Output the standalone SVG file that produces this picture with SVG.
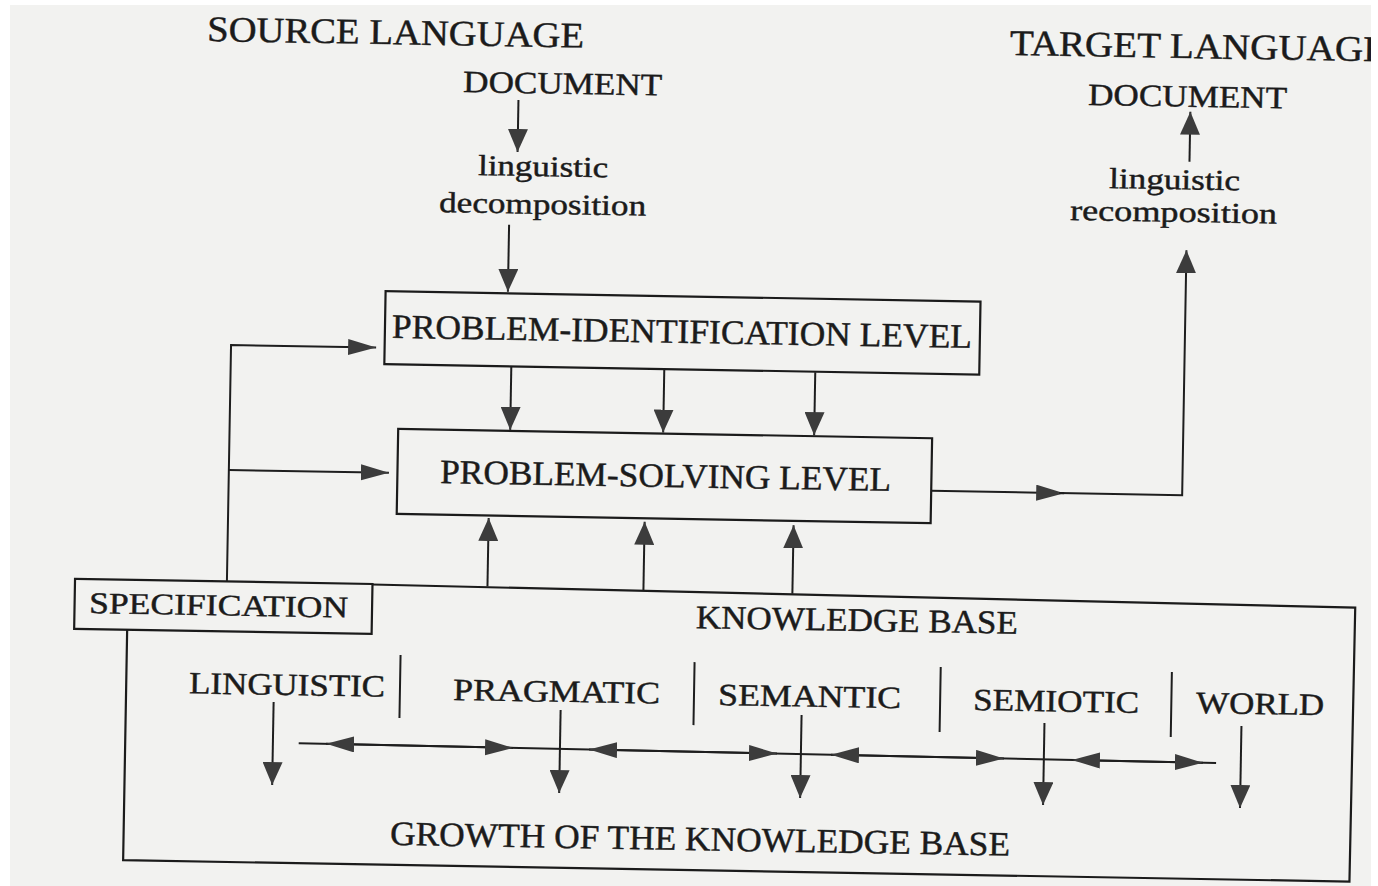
<svg xmlns="http://www.w3.org/2000/svg" width="1378" height="886" viewBox="0 0 1378 886">
  <defs>
    <clipPath id="paperClip">
      <rect x="10" y="5" width="1361" height="881"/>
    </clipPath>
    <marker id="av" markerUnits="userSpaceOnUse" markerWidth="24" markerHeight="20" refX="23" refY="10" orient="auto">
      <path d="M0,0 L23,10 L0,20 Z" fill="#3c3c3c"/>
    </marker>
    <marker id="ah" markerUnits="userSpaceOnUse" markerWidth="29" markerHeight="17" refX="28" refY="8" orient="auto-start-reverse">
      <path d="M0,0 L28,8 L0,16 Z" fill="#3c3c3c"/>
    </marker>
    <style>
      .t { font-family: "Liberation Serif", "Times New Roman", serif; fill: #1b1b1b; stroke: #1b1b1b; stroke-width: 0.45; }
      .box { fill: none; stroke: #1b1b1b; stroke-width: 2.2; }
      .ln { fill: none; stroke: #1e1e1e; stroke-width: 2; }
      .v { marker-end: url(#av); }
      .h { marker-end: url(#ah); }
      .hh { marker-start: url(#ah); marker-end: url(#ah); }
    </style>
  </defs>
  <rect x="0" y="0" width="1378" height="886" fill="#ffffff"/>
  <rect x="10" y="5" width="1361" height="881" fill="#f2f2f0"/>
  <g clip-path="url(#paperClip)">
    <g transform="rotate(1 689 443)">
      <g id="source">
        <text class="t" x="200" y="49.5" font-size="36" textLength="377" lengthAdjust="spacingAndGlyphs">SOURCE LANGUAGE</text>
        <text class="t" x="457" y="96" font-size="31" textLength="199" lengthAdjust="spacingAndGlyphs">DOCUMENT</text>
        <text class="t" x="473.3" y="178.7" font-size="29" textLength="130" lengthAdjust="spacingAndGlyphs">linguistic</text>
        <text class="t" x="435" y="216.4" font-size="29" textLength="207" lengthAdjust="spacingAndGlyphs">decomposition</text>
      </g>
      <g id="target">
        <text class="t" x="1003" y="49.4" font-size="36" textLength="377" lengthAdjust="spacingAndGlyphs">TARGET LANGUAGE</text>
        <text class="t" x="1082" y="98" font-size="31" textLength="199" lengthAdjust="spacingAndGlyphs">DOCUMENT</text>
        <text class="t" x="1104.5" y="180.7" font-size="29" textLength="131" lengthAdjust="spacingAndGlyphs">linguistic</text>
        <text class="t" x="1066" y="213.3" font-size="29" textLength="207" lengthAdjust="spacingAndGlyphs">recomposition</text>
      </g>
      <g id="problem-identification">
        <rect class="box" x="383" y="296.5" width="595" height="73"/>
        <text class="t" x="390" y="343" font-size="34" textLength="580" lengthAdjust="spacingAndGlyphs">PROBLEM-IDENTIFICATION LEVEL</text>
      </g>
      <g id="problem-solving">
        <rect class="box" x="398" y="434" width="534" height="85"/>
        <text class="t" x="440.7" y="487.4" font-size="34" textLength="451" lengthAdjust="spacingAndGlyphs">PROBLEM-SOLVING LEVEL</text>
      </g>
      <g id="specification">
        <rect class="box" x="77.5" y="589.5" width="297.5" height="50"/>
        <text class="t" x="92" y="623.5" font-size="30" textLength="259" lengthAdjust="spacingAndGlyphs">SPECIFICATION</text>
      </g>
      <g id="knowledge-base">
        <path class="box" d="M375,590 L1358,596 L1357,870 L130.5,870 L130.5,639.5"/>
        <text class="t" x="699" y="628" font-size="33" textLength="322" lengthAdjust="spacingAndGlyphs">KNOWLEDGE BASE</text>
        <text class="t" x="193.4" y="702" font-size="31" textLength="196" lengthAdjust="spacingAndGlyphs">LINGUISTIC</text>
        <text class="t" x="457.5" y="704" font-size="31" textLength="207" lengthAdjust="spacingAndGlyphs">PRAGMATIC</text>
        <text class="t" x="722.6" y="704.5" font-size="31" textLength="183" lengthAdjust="spacingAndGlyphs">SEMANTIC</text>
        <text class="t" x="977.7" y="705" font-size="31" textLength="166" lengthAdjust="spacingAndGlyphs">SEMIOTIC</text>
        <text class="t" x="1200.7" y="704" font-size="31" textLength="128" lengthAdjust="spacingAndGlyphs">WORLD</text>
        <path class="ln" d="M404.3,660 V723 M698.4,662 V725 M944.6,662.6 V727.6 M1175.8,663.6 V728.6"/>
        <text class="t" x="397" y="850" font-size="34" textLength="620" lengthAdjust="spacingAndGlyphs">GROWTH OF THE KNOWLEDGE BASE</text>
      </g>
      <g id="connectors">
        <path class="ln v" d="M512.5,103 V155"/>
        <path class="ln v" d="M505.3,228 V295"/>
        <path class="ln v" d="M510,370 V433"/>
        <path class="ln v" d="M663,370 V433"/>
        <path class="ln v" d="M814,370 V433"/>
        <path class="ln v" d="M490,590 V521.5"/>
        <path class="ln v" d="M646,591 V522.5"/>
        <path class="ln v" d="M795,592 V523.5"/>
        <path class="ln h" d="M229.4,589.5 V353 H374.5"/>
        <path class="ln h" d="M229.4,478 H389.5"/>
        <path class="ln h" d="M932,486.6 H1065"/>
        <path class="ln v" d="M1060,486.6 H1183 V241.5"/>
        <path class="ln v" d="M1184.5,153 V103"/>
        <path class="ln v" d="M278.2,709.3 V792.3"/>
        <path class="ln v" d="M565.3,712.3 V795.3"/>
        <path class="ln v" d="M806.3,713 V796"/>
        <path class="ln v" d="M1049.3,716.8 V798.8"/>
        <path class="ln v" d="M1246.3,716.3 V798.3"/>
        <path class="ln" d="M304,750 L1221.6,753.8"/>
        <path class="ln hh" d="M331.4,750.1 L518.4,750.9"/>
        <path class="ln hh" d="M594.4,751.2 L782.4,752"/>
        <path class="ln hh" d="M836.4,752.2 L1009.4,752.9"/>
        <path class="ln hh" d="M1077.4,753.2 L1208.4,753.7"/>
      </g>
    </g>
  </g>
</svg>
